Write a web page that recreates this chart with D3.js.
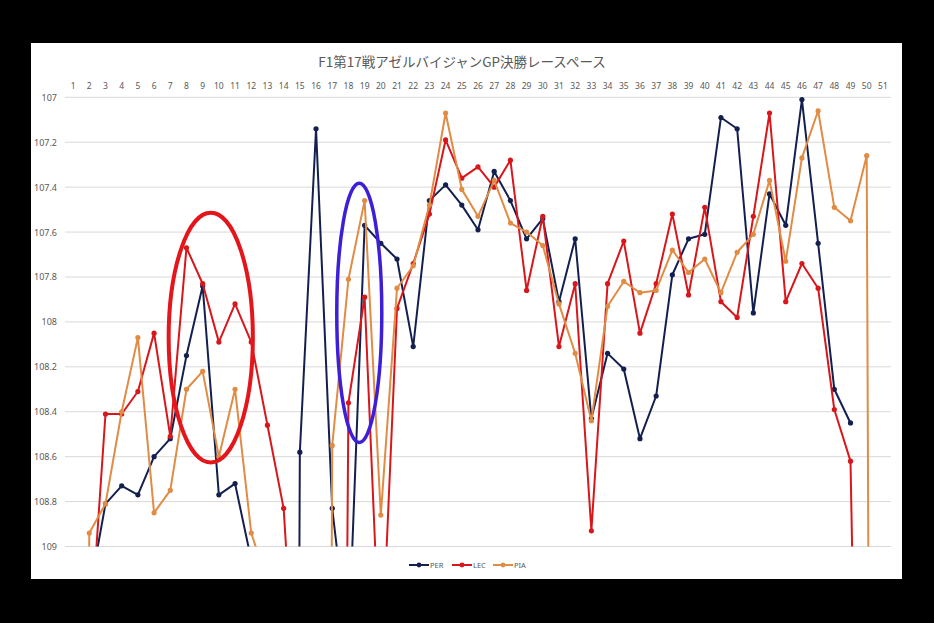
<!DOCTYPE html>
<html>
<head>
<meta charset="utf-8">
<script src="https://cdn.jsdelivr.net/npm/d3@7"></script>
<style>
  html, body { margin: 0; padding: 0; background: #000; }
  svg { display: block; }
</style>
</head>
<body>
<svg id="chart" width="934" height="623"></svg>
<script>
// ---------- DATA ----------
const title = "F1第17戦アゼルバイジャンGP決勝レースペース";
const laps = d3.range(1, 52);
const seriesNames = ["PER", "LEC", "PIA"];
const seriesColors = ["#13204f", "#d8171c", "#e08c45"];

// lap times (seconds above 100, as plotted); values > 109 fall off the axis
const PER = [120, 109.21, 108.81, 108.73, 108.77, 108.60, 108.52, 108.15, 107.84, 108.77,
             108.72, 109.06, 109.6, 125, 108.58, 107.14, 108.83, 109.45, 107.57, 107.65,
             107.72, 108.11, 107.46, 107.39, 107.48, 107.59, 107.33, 107.46, 107.63, 107.54,
             107.91, 107.63, 108.43, 108.14, 108.21, 108.52, 108.33, 107.79, 107.63, 107.61,
             107.09, 107.14, 107.96, 107.43, 107.57, 107.01, 107.65, 108.30, 108.45, null, null];
const LEC = [120, 109.47, 108.41, 108.41, 108.31, 108.05, 108.51, 107.67, 107.83, 108.09,
             107.92, 108.09, 108.46, 108.83, 110.0, 111.0, 118, 108.36, 107.89, 109.6,
             107.94, 107.74, 107.52, 107.19, 107.36, 107.31, 107.40, 107.28, 107.86, 107.53,
             108.11, 107.83, 108.93, 107.83, 107.64, 108.05, 107.83, 107.52, 107.88, 107.49,
             107.91, 107.98, 107.53, 107.07, 107.91, 107.74, 107.85, 108.39, 108.62, 112.5, null];
const PIA = [120, 108.94, 108.81, 108.40, 108.07, 108.85, 108.75, 108.30, 108.22, 108.60,
             108.30, 108.94, 109.16, 109.4, 109.6, 125, 108.55, 107.81, 107.46, 108.86,
             107.85, 107.75, 107.48, 107.07, 107.41, 107.53, 107.37, 107.56, 107.60, 107.66,
             107.92, 108.14, 108.44, 107.93, 107.82, 107.87, 107.86, 107.68, 107.78, 107.72,
             107.87, 107.69, 107.61, 107.37, 107.73, 107.27, 107.06, 107.49, 107.55, 107.26, 125];
const seriesValues = [PER, LEC, PIA];

const yTicks = [107, 107.2, 107.4, 107.6, 107.8, 108, 108.2, 108.4, 108.6, 108.8, 109];
const yTickLabels = ["107", "107.2", "107.4", "107.6", "107.8", "108", "108.2", "108.4", "108.6", "108.8", "109"];

// annotation ellipses, in data units (lap centre, value centre, half-width in laps, half-height in value)
const annLap = [9.5, 18.67];
const annValue = [108.07, 107.96];
const annRxLaps = [2.6, 1.39];
const annRyValue = [0.556, 0.577];
const annColors = ["#e4161b", "#3d1fd8"];
const annWidths = [4, 3.5];

// ---------- LAYOUT ----------
const svg = d3.select("#chart");
const W = 934, H = 623;
const panel = {x: 31, y: 43, w: 871, h: 536};
const plot = {left: 65, right: 891, top: 97.3, bottom: 546.5};

svg.append("rect").attr("width", W).attr("height", H).attr("fill", "#000");
svg.append("rect").attr("x", panel.x).attr("y", panel.y).attr("width", panel.w).attr("height", panel.h).attr("fill", "#fff");

const x = d3.scaleBand().domain(laps).range([plot.left, plot.right]);
const xc = d => x(d) + x.bandwidth() / 2;
const xLin = d3.scaleLinear().domain([1, 51]).range([xc(1), xc(51)]);
const y = d3.scaleLinear().domain([107, 109]).range([plot.top, plot.bottom]);

const font = "'Noto Sans', 'Open Sans', sans-serif";
const textColor = "#595959";

// title
svg.append("text")
  .attr("x", 462).attr("y", 67)
  .attr("text-anchor", "middle")
  .attr("font-family", "'Noto Sans CJK JP', 'Noto Sans', sans-serif")
  .attr("font-size", 13.5)
  .attr("fill", textColor)
  .text(title);

// gridlines
svg.append("g").selectAll("line").data(yTicks).join("line")
  .attr("x1", plot.left).attr("x2", plot.right)
  .attr("y1", d => y(d)).attr("y2", d => y(d))
  .attr("stroke", "#d9d9d9").attr("stroke-width", 1);

// y axis labels
const yAxis = d3.axisLeft(y).tickValues(yTicks).tickFormat((d, i) => yTickLabels[i]).tickSize(0).tickPadding(0);
const gy = svg.append("g").attr("transform", `translate(${plot.left - 8},0)`).call(yAxis);
gy.select(".domain").remove();
gy.selectAll("text").attr("font-family", font).attr("font-size", 9).attr("fill", textColor).attr("dy", "0.33em");

// x axis labels on top
const xAxis = d3.axisTop(x).tickSize(0).tickPadding(0);
const gx = svg.append("g").attr("transform", `translate(0,89)`).call(xAxis);
gx.select(".domain").remove();
gx.selectAll("text").attr("font-family", font).attr("font-size", 8.5).attr("fill", textColor);

// clip
svg.append("defs").append("clipPath").attr("id", "plotclip")
  .append("rect").attr("x", plot.left).attr("y", plot.top - 6)
  .attr("width", plot.right - plot.left).attr("height", plot.bottom - plot.top + 6);

const gPlot = svg.append("g").attr("clip-path", "url(#plotclip)");

const line = d3.line()
  .defined(d => d.v !== null)
  .x(d => xc(d.lap)).y(d => y(d.v));

seriesNames.forEach((name, si) => {
  const pts = laps.map((lap, i) => ({lap, v: seriesValues[si][i]}));
  gPlot.append("path").datum(pts)
    .attr("d", line)
    .attr("fill", "none")
    .attr("stroke", seriesColors[si])
    .attr("stroke-width", 2)
    .attr("stroke-linejoin", "round");
  gPlot.append("g").selectAll("circle").data(pts.filter(d => d.v !== null && d.v <= 109)).join("circle")
    .attr("cx", d => xc(d.lap)).attr("cy", d => y(d.v))
    .attr("r", 2.6).attr("fill", seriesColors[si]);
});

// annotation ellipses
annLap.forEach((lap, i) => {
  const cx = xLin(lap), cy = y(annValue[i]);
  const rx = xLin(lap + annRxLaps[i]) - cx;
  const ry = y(annValue[i] + annRyValue[i]) - cy;
  svg.append("ellipse")
    .attr("cx", cx).attr("cy", cy).attr("rx", rx).attr("ry", ry)
    .attr("fill", "none").attr("stroke", annColors[i]).attr("stroke-width", annWidths[i]);
});

// legend
const legendX = [409, 452, 493];
const lg = svg.append("g").attr("transform", "translate(0,565)");
seriesNames.forEach((name, i) => {
  const g = lg.append("g").attr("transform", `translate(${legendX[i]},0)`);
  g.append("line").attr("x1", 0).attr("x2", 20).attr("y1", 0).attr("y2", 0)
    .attr("stroke", seriesColors[i]).attr("stroke-width", 2);
  g.append("circle").attr("cx", 10).attr("cy", 0).attr("r", 2.4).attr("fill", seriesColors[i]);
  g.append("text").attr("x", 21).attr("y", 0).attr("dy", "0.35em")
    .attr("font-family", font).attr("font-size", 7.5).attr("fill", textColor).text(name);
});
</script>
</body>
</html>
